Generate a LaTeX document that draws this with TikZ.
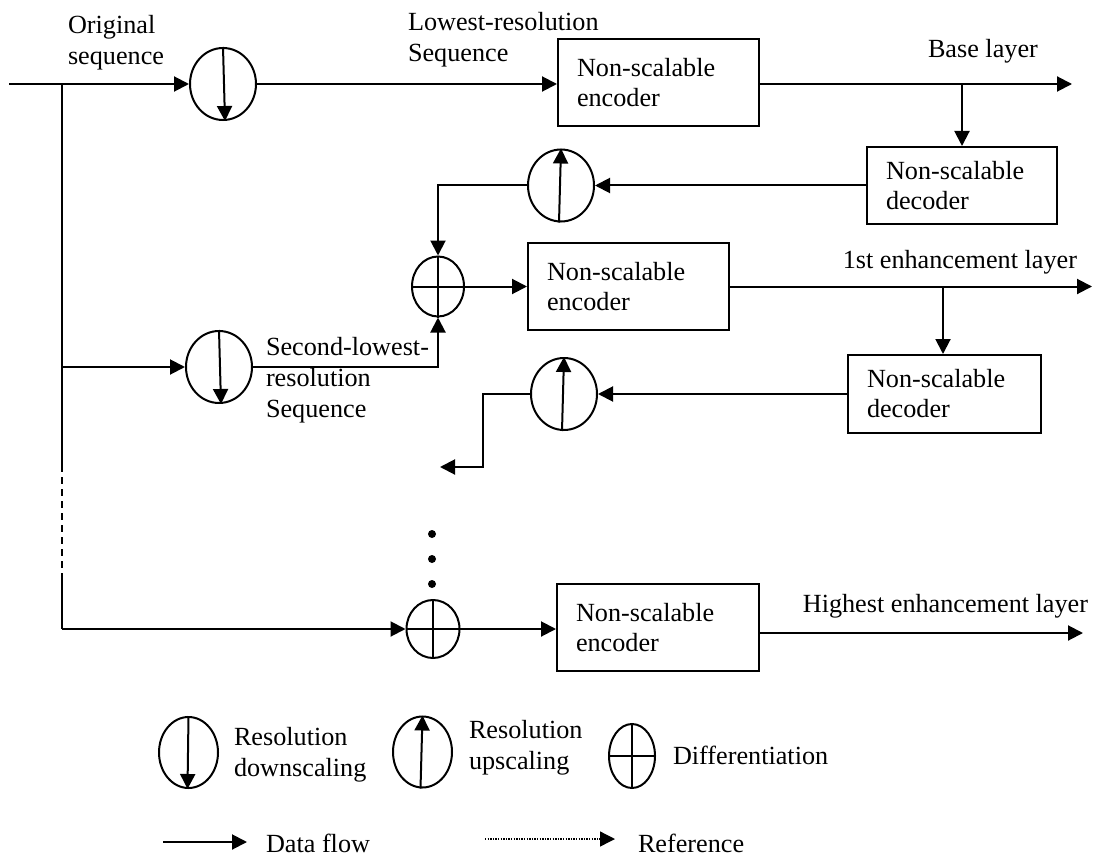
\documentclass[tikz,border=0pt]{standalone}
\usepackage{fontspec}
\setmainfont{Liberation Serif}
\usetikzlibrary{shapes.geometric,arrows.meta}
\begin{document}
\begin{tikzpicture}[x=1pt,y=-1pt,line width=2pt,
  every node/.style={font=\fontsize{26.2}{30}\selectfont},
  tip/.style={-{Triangle[length=15pt,width=15pt]}},
  ell/.style={draw,ellipse,minimum width=66pt,minimum height=72pt,inner sep=0pt},
  pl/.style={draw,ellipse,minimum width=52pt,minimum height=60pt,inner sep=0pt},
  box/.style={draw,rectangle,anchor=west,minimum height=87pt,inner xsep=19pt,inner ysep=0pt,align=left},
  lbl/.style={anchor=base west,inner sep=0pt,align=left,font=\fontsize{26.2}{31}\selectfont},
  dotn/.style={circle,fill,inner sep=0pt,minimum size=8pt},
  refline/.style={line width=1.3pt,dash pattern=on 1.3pt off 1.3pt}
]
\useasboundingbox (0,0) rectangle (1094,861);

% ---------- row 1 ----------
\coordinate (in) at (9,84);
\coordinate (br0) at (62,84);
\node[ell] (d1) at (223,84) {};
\node[box,text width=163pt] (e1) at (557,83) {Non-scalable\\encoder};
\coordinate (o1) at (1072,84);
\coordinate (b1) at (962,84);
\node[box,text width=152pt,minimum height=77pt] (dc1) at (866,185.5) {Non-scalable\\decoder};
\node[ell] (u1) at (561,185.5) {};

\node[lbl] (t1) at (67,65) {Original\\sequence};
\node[lbl] (t2) at (407,62) {Lowest-resolution\\Sequence};
\node[lbl] (t3) at (927,58) {Base layer};

\draw[tip] (in) -- (d1.west);
\draw[tip] (d1.north) -- ([xshift=2pt]d1.south);
\draw[tip] (d1.east) -- (d1.east -| e1.west);
\draw[tip] (e1.east |- o1) -- (o1);
\draw[tip] (b1) -- (b1 |- dc1.north);
\draw[tip] (dc1.west) -- (u1.east);
\draw[tip] ([xshift=-2pt]u1.south) -- (u1.north);

% ---------- row 2 ----------
\node[pl] (p1) at (438,286.5) {};
\node[box,text width=163pt] (e2) at (527,286.5) {Non-scalable\\encoder};
\coordinate (o2) at (1092,286.5);
\coordinate (b2) at (943,286.5);
\node[box,text width=155pt,minimum height=78pt] (dc2) at (847,394) {Non-scalable\\decoder};
\node[ell] (u2) at (564,394) {};
\coordinate (k2) at (483,467);
\coordinate (r2) at (440,467);
\node[ell] (d2) at (219,367) {};
\node[lbl] (t4) at (1078,268) [anchor=base east] {1st enhancement layer};
\node[lbl] (t5) at (265,417) {Second-lowest-\\resolution\\Sequence};

\draw (p1.north) -- (p1.south);
\draw (p1.west) -- (p1.east);
\draw[tip] (u1.west) -| (p1.north);
\draw[tip] (p1.east) -- (e2.west);
\draw[tip] (e2.east) -- (o2);
\draw[tip] (b2) -- (b2 |- dc2.north);
\draw[tip] (dc2.west) -- (u2.east);
\draw[tip] ([xshift=-2pt]u2.south) -- (u2.north);
\draw[tip] (u2.west) -| (k2) -- (r2);
\draw[tip] (br0 |- d2.west) -- (d2.west);
\draw[tip] (d2.north) -- ([xshift=2pt]d2.south);
\draw[tip] (d2.east) -| (p1.south);

% ---------- left branch ----------
\coordinate (brA) at (62,465);
\coordinate (brB) at (62,578);
\coordinate (br3) at (62,629);
\draw (br0) -- (brA);
\draw[dash pattern=on 7pt off 5pt] (brA) -- (brB);
\draw (brB) -- (br3);

% ---------- row 3 ----------
\node[dotn] (dot1) at (432,534) {};
\node[dotn] (dot2) at (432,559) {};
\node[dotn] (dot3) at (432,584) {};
\node[pl,minimum width=53pt,minimum height=58pt] (p2) at (433,629) {};
\node[box,text width=164pt] (e3) at (556,627.5) {Non-scalable\\encoder};
\coordinate (o3) at (1083,633);
\node[lbl] (t6) at (1089,612) [anchor=base east] {Highest enhancement layer};
\draw (p2.north) -- (p2.south);
\draw (p2.west) -- (p2.east);
\draw[tip] (br3) -- (p2.west);
\draw[tip] (p2.east) -- (p2.east -| e3.west);
\draw[tip] (e3.east |- o3) -- (o3);

% ---------- legend ----------
\node[ell,minimum width=59pt,minimum height=71pt] (ld) at (188.5,752.5) {};
\draw[tip] (ld.north) -- ([xshift=-1pt]ld.south);
\node[lbl] (ldt) at (233,776) {Resolution\\downscaling};
\node[ell,minimum width=59pt,minimum height=71pt] (lu) at (422.5,752) {};
\draw[tip] ([xshift=-2pt]lu.south) -- (lu.north);
\node[lbl] (lut) at (468,769) {Resolution\\upscaling};
\node[pl,minimum width=46pt,minimum height=64pt] (lp) at (632,756) {};
\draw (lp.north) -- (lp.south);
\draw (lp.west) -- (lp.east);
\node[lbl] (lpt) at (672,764) {Differentiation};

\coordinate (lf1) at (163,842);
\coordinate (lf2) at (247,842);
\draw[tip] (lf1) -- (lf2);
\node[lbl] (lft) at (265,852) {Data flow};
\coordinate (lr1) at (485,839);
\coordinate (lr2) at (615,839);
\draw[refline,-{Triangle[length=15pt,width=15pt]}] (lr1) -- (lr2);
\node[lbl] (lrt) at (637,852) {Reference};
\end{tikzpicture}
\end{document}
